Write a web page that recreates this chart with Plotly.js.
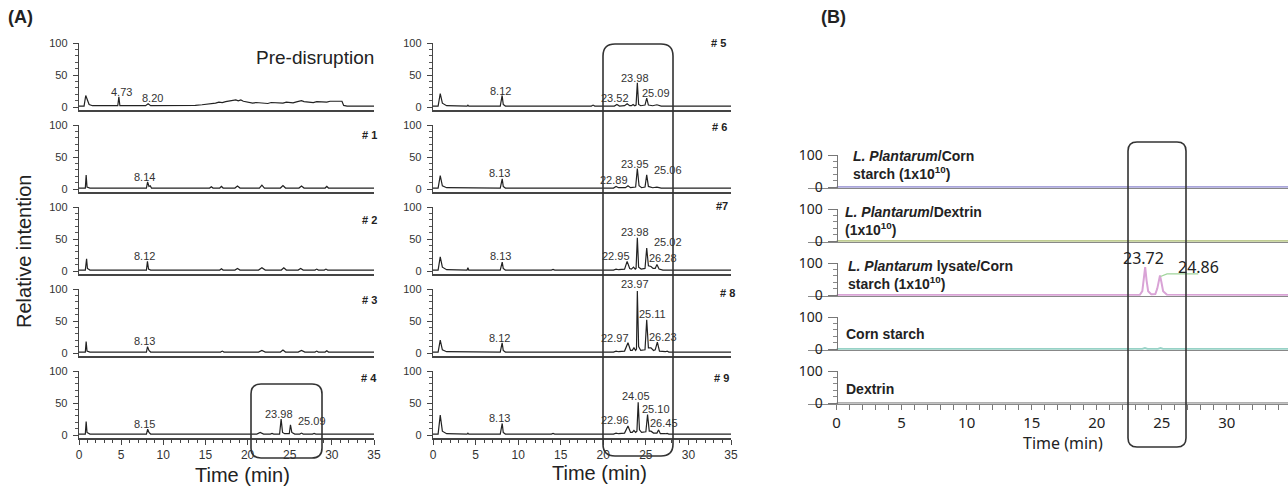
<!DOCTYPE html>
<html><head><meta charset="utf-8">
<script src="https://cdn.plot.ly/plotly-3.0.1.min.js"></script>
<style>html,body{margin:0;padding:0;background:#fff}#chart{width:1288px;height:488px}</style>
</head><body><div id="chart"></div>
<script>
// ---------------- DATA ----------------
// Panel A, left column (time in min, relative intensity)
const preT = [0, 0.6, 0.8, 0.95, 1.2, 1.6, 4.6, 4.73, 4.85, 7.9, 8.2, 8.5, 12.0, 13.8, 14.6, 15.0, 15.6, 16.2, 16.6, 17.0, 17.4, 17.8, 18.2, 18.6, 18.9, 19.2, 19.5, 19.8, 20.2, 20.6, 21.0, 21.5, 22.0, 22.4, 22.8, 23.3, 23.7, 24.2, 24.6, 25.0, 25.4, 25.8, 26.1, 26.4, 26.7, 27.0, 27.4, 27.8, 28.2, 28.6, 29.0, 29.4, 29.8, 30.2, 30.6, 30.9, 31.2, 31.4, 31.8, 35.0];
const preV = [1.5, 1.5, 18, 12, 4, 2, 2, 16, 2, 2, 5, 2, 2, 2.5, 3.5, 4, 5.5, 6, 7.5, 7, 8.5, 9, 10, 11, 9.5, 11, 9, 8, 6.5, 6, 7, 6.5, 5, 5.5, 7, 7, 6, 6, 7.5, 7.5, 6.5, 8, 9, 10, 8.5, 8, 7, 7, 8.5, 8.5, 7.5, 7.5, 9, 9, 8, 8, 9, 2.5, 1.5, 1.5];
const s1T = [0, 0.75, 0.85, 0.95, 1.3, 8.0, 8.14, 8.3, 8.45, 8.6, 15.5, 15.7, 15.9, 16.7, 16.9, 17.1, 18.5, 18.8, 19.1, 21.4, 21.7, 22.0, 23.9, 24.2, 24.5, 26.1, 26.4, 26.7, 29.2, 29.4, 29.6, 35];
const s1V = [1.5, 1.5, 22, 3, 1.5, 1.5, 11, 4, 5, 1.5, 1.5, 3.5, 1.5, 1.5, 4, 1.5, 1.5, 4.5, 1.5, 1.5, 6, 1.5, 1.5, 5.5, 1.5, 1.5, 4.5, 1.5, 1.5, 4, 1.5, 1.5];
const s2T = [0, 0.75, 0.9, 1.0, 1.3, 8.0, 8.12, 8.25, 8.5, 16.7, 16.9, 17.1, 18.5, 18.8, 19.1, 21.3, 21.7, 22.1, 24.0, 24.3, 24.6, 26.0, 26.3, 26.6, 28.0, 28.2, 28.4, 29.1, 29.3, 29.5, 35];
const s2V = [1.5, 1.5, 19, 4, 1.5, 1.5, 15, 3, 1.5, 1.5, 3.5, 1.5, 1.5, 4, 1.5, 1.5, 5, 1.5, 1.5, 5, 1.5, 1.5, 4, 1.5, 1.5, 3, 1.5, 1.5, 3, 1.5, 1.5];
const s3T = [0, 0.75, 0.85, 0.95, 1.3, 8.0, 8.13, 8.3, 8.5, 16.8, 17.0, 17.2, 21.3, 21.7, 22.1, 23.9, 24.2, 24.5, 26.0, 26.4, 26.8, 28.0, 28.2, 28.4, 29.2, 29.4, 29.6, 35];
const s3V = [1.5, 1.5, 18, 3, 1.5, 1.5, 10, 4, 1.5, 1.5, 3, 1.5, 1.5, 4, 1.5, 1.5, 4.5, 1.5, 1.5, 4, 1.5, 1.5, 3, 1.5, 1.5, 3.5, 1.5, 1.5];
const s4T = [0, 0.75, 0.85, 0.95, 1.3, 8.0, 8.15, 8.3, 8.5, 16.6, 16.8, 17.0, 18.9, 19.1, 19.3, 21.1, 21.5, 21.9, 22.7, 22.9, 23.1, 23.8, 23.98, 24.15, 24.4, 24.95, 25.09, 25.25, 25.6, 26.2, 26.4, 26.6, 27.7, 27.9, 28.1, 35];
const s4V = [1.5, 1.5, 21, 4, 1.5, 1.5, 9, 4, 1.5, 1.5, 2.5, 1.5, 1.5, 2.5, 1.5, 1.5, 4, 1.5, 1.5, 2.5, 1.5, 1.5, 25, 4, 2, 2, 16, 4, 1.5, 1.5, 3, 1.5, 1.5, 2.5, 1.5, 1.5];
// Panel A, right column
const s5T = [0, 0.6, 0.85, 1.1, 1.6, 4.0, 4.1, 4.2, 7.9, 8.12, 8.25, 8.5, 18.6, 18.8, 19.0, 21.3, 21.6, 21.9, 22.5, 22.8, 23.1, 23.3, 23.5, 23.7, 23.85, 24.0, 24.15, 24.4, 24.9, 25.1, 25.3, 25.8, 26.3, 26.8, 35];
const s5V = [1.5, 1.5, 21, 6, 2, 1.5, 3, 1.5, 1.5, 18, 4, 1.5, 1.5, 3, 1.5, 1.5, 4, 1.5, 2, 5, 2, 2, 4, 2, 3, 38, 4, 2, 3, 14, 3, 2, 3.5, 1.5, 1.5];
const s6T = [0, 0.6, 0.85, 1.1, 1.6, 4.0, 4.1, 4.2, 7.9, 8.13, 8.25, 8.5, 18.6, 18.8, 19.0, 21.2, 21.5, 21.8, 22.6, 22.9, 23.2, 23.8, 24.0, 24.2, 24.5, 24.9, 25.1, 25.3, 25.8, 26.3, 26.8, 35];
const s6V = [1.5, 1.5, 21, 5, 2, 1.5, 2.5, 1.5, 1.5, 16, 4, 1.5, 1.5, 2.5, 1.5, 1.5, 4, 2, 2, 5, 2, 3, 32, 5, 2, 3, 22, 4, 2, 3, 1.5, 1.5];
const s7T = [0, 0.6, 0.85, 1.1, 1.6, 4.0, 4.1, 4.2, 7.9, 8.13, 8.25, 8.5, 13.9, 14.1, 14.3, 17.3, 17.5, 17.7, 21.2, 21.5, 21.8, 22.5, 22.8, 23.1, 23.3, 23.55, 23.75, 23.85, 24.0, 24.15, 24.45, 24.9, 25.1, 25.3, 25.6, 25.85, 26.1, 26.3, 26.55, 27.0, 35];
const s7V = [1.5, 1.5, 22, 6, 2, 1.5, 5, 1.5, 1.5, 14, 4, 1.5, 1.5, 2.5, 1.5, 1.5, 2.5, 1.5, 1.5, 3, 2, 3, 15, 4, 3, 6, 3, 4, 52, 6, 3, 4, 36, 8, 7, 4, 4, 10, 3, 1.5, 1.5];
const s8T = [0, 0.6, 0.85, 1.1, 1.6, 4.0, 4.1, 4.2, 7.9, 8.12, 8.25, 8.5, 13.9, 14.1, 14.3, 21.2, 21.5, 21.8, 22.5, 22.9, 23.2, 23.4, 23.6, 23.8, 23.9, 24.0, 24.15, 24.4, 24.9, 25.1, 25.3, 25.6, 25.9, 26.1, 26.35, 26.6, 27.3, 27.5, 27.7, 35];
const s8V = [1.5, 1.5, 20, 5, 2, 1.5, 2.5, 1.5, 1.5, 16, 4, 1.5, 1.5, 2.5, 1.5, 1.5, 3, 2, 3, 16, 4, 4, 8, 4, 6, 97, 10, 4, 5, 52, 8, 8, 4, 5, 17, 3, 2, 3, 1.5, 1.5];
const s9T = [0, 0.6, 0.85, 1.1, 1.6, 4.0, 4.1, 4.2, 7.9, 8.13, 8.25, 8.5, 13.9, 14.1, 14.3, 18.8, 19.0, 19.2, 21.2, 21.5, 21.8, 22.5, 22.9, 23.2, 23.4, 23.6, 23.8, 23.95, 24.1, 24.25, 24.5, 25.0, 25.2, 25.4, 25.6, 25.9, 26.3, 26.5, 26.7, 27.3, 27.5, 27.7, 35];
const s9V = [1.5, 1.5, 31, 6, 2, 1.5, 3, 1.5, 1.5, 18, 4, 1.5, 1.5, 2.5, 1.5, 1.5, 2.5, 1.5, 1.5, 3, 2, 3, 14, 4, 4, 7, 4, 6, 51, 8, 4, 5, 32, 6, 6, 3, 3, 8, 2, 2, 2.5, 1.5, 1.5];
// Panel B
const rT1 = [0, 23.5, 23.7, 23.9, 34.7];
const rV1 = [0, 0, 1.5, 0, 0];
const rT2 = [0, 19.5, 20.5, 22, 23, 34.7];
const rV2 = [0, 0, 1, 1, 0, 0];
const rT3 = [0, 20.2, 20.4, 20.6, 23.3, 23.5, 23.6, 23.72, 23.83, 23.95, 24.2, 24.5, 24.65, 24.75, 24.86, 24.97, 25.1, 25.4, 34.7];
const rV3 = [0, 0, 2, 0, 0, 12, 45, 87, 45, 12, 2, 3, 20, 45, 61, 40, 12, 1, 0];
const rIntT = [24.9, 25.4, 27.8];
const rIntV = [58, 66, 66];
const rT4 = [0, 20, 23.5, 23.7, 23.9, 24.7, 24.9, 25.1, 34.7];
const rV4 = [0, 0, 0, 3, 0, 0, 3, 0, 0];
const rT5 = [0, 34.7];
const rV5 = [0, 0];

// Text content
const sampleNamesA = ['Pre-disruption', '# 1', '# 2', '# 3', '# 4'];
const sampleNamesA2 = ['# 5', '# 6', '#7', '# 8', '# 9'];
const peakLabPre = ['4.73', '8.20'];
const peakLab1 = ['8.14'];
const peakLab2 = ['8.12'];
const peakLab3 = ['8.13'];
const peakLab4 = ['8.15', '23.98', '25.09'];
const peakLab5 = ['8.12', '23.52', '23.98', '25.09'];
const peakLab6 = ['8.13', '22.89', '23.95', '25.06'];
const peakLab7 = ['8.13', '22.95', '23.98', '25.02', '26.28'];
const peakLab8 = ['8.12', '22.97', '23.97', '25.11', '26.23'];
const peakLab9 = ['8.13', '22.96', '24.05', '25.10', '26.45'];
const peakLabB = ['23.72', '24.86'];
const sampleNamesB = [
  '<i>L. Plantarum</i>/Corn<br>starch (1x10<sup>10</sup>)',
  '<i>L. Plantarum</i>/Dextrin<br>(1x10<sup>10</sup>)',
  '<i>L. Plantarum</i> lysate/Corn<br>starch (1x10<sup>10</sup>)',
  'Corn starch',
  'Dextrin'
];
const colorsB = ['#a9a5da', '#bfcc92', '#d9a3d6', '#97d2c6', '#b0b0b0'];

// ---------------- LAYOUT HELPERS ----------------
const W = 1288, H = 488;
const px = x => x / W, py = y => 1 - y / H;
const FONT = 'Liberation Sans, Arial, sans-serif';
const traces = [];
const layout = {
  width: W, height: H, margin: {l: 0, r: 0, t: 0, b: 0},
  paper_bgcolor: '#fff', plot_bgcolor: 'rgba(0,0,0,0)', showlegend: false,
  annotations: [], shapes: []
};
let n = 0;
function ids() { n += 1; return n === 1 ? '' : String(n); }

const setsA = [[preT, preV], [s1T, s1V], [s2T, s2V], [s3T, s3V], [s4T, s4V]];
const setsA2 = [[s5T, s5V], [s6T, s6V], [s7T, s7V], [s8T, s8V], [s9T, s9V]];

function addAPanel(sets, xl, xr) {
  sets.forEach((d, k) => {
    const id = ids();
    const p0 = 107 + 82 * k;
    const bottom = k === 4;
    traces.push({x: d[0], y: d[1], xaxis: 'x' + id, yaxis: 'y' + id, type: 'scatter', mode: 'lines',
      line: {color: '#222', width: 1.2}, hoverinfo: 'skip'});
    const xa = {domain: [px(xl), px(xr)], range: [0, 35], anchor: 'y' + id, showline: true, linecolor: '#444',
      linewidth: 1.4, showgrid: false, zeroline: false, fixedrange: true,
      ticks: bottom ? 'outside' : '', ticklen: 5, tickcolor: '#444', tickmode: 'linear', tick0: 0, dtick: 5,
      showticklabels: bottom, tickfont: {family: FONT, size: 12, color: '#333'}};
    if (bottom) xa.minor = {dtick: 1, tick0: 0, ticks: 'outside', ticklen: 3, tickcolor: '#444'};
    layout['xaxis' + id] = xa;
    layout['yaxis' + id] = {domain: [py(p0 + 3.2), py(p0 - 64)], range: [-5, 100], anchor: 'x' + id,
      showline: true, linecolor: '#444', linewidth: 1.3, showgrid: false, zeroline: false, fixedrange: true,
      ticks: 'outside', ticklen: 5, tickcolor: '#444', tickmode: 'linear', tick0: 0, dtick: 50,
      minor: {dtick: 10, tick0: 0, ticks: 'outside', ticklen: 3, tickcolor: '#555'},
      tickfont: {family: FONT, size: 11, color: '#333'}, ticklabelstandoff: 3};
  });
}
addAPanel(setsA, 79, 374);
addAPanel(setsA2, 433, 731);

// Panel B
const setsB = [[rT1, rV1], [rT2, rV2], [rT3, rV3], [rT4, rV4], [rT5, rV5]];
const p0B = [187, 241, 295, 349, 403];
const minorB = [];
for (let t = 0; t <= 34; t++) minorB.push(t);
setsB.forEach((d, k) => {
  const id = ids();
  const p0 = p0B[k];
  const bottom = k === 4;
  traces.push({x: d[0], y: d[1], xaxis: 'x' + id, yaxis: 'y' + id, type: 'scatter', mode: 'lines',
    line: {color: colorsB[k], width: 2}, hoverinfo: 'skip'});
  if (k === 2) {
    traces.push({x: rIntT, y: rIntV, xaxis: 'x' + id, yaxis: 'y' + id, type: 'scatter', mode: 'lines',
      line: {color: '#9fd49a', width: 1.2}, hoverinfo: 'skip'});
  }
  const xa = {domain: [px(808), 1], range: [-2.2, 34.7], anchor: 'y' + id, showline: true, linecolor: '#888',
    linewidth: 1.6, showgrid: false, zeroline: false, fixedrange: true,
    ticks: bottom ? 'outside' : '', ticklen: 5, tickcolor: '#777', tickmode: 'linear', tick0: 0, dtick: 5,
    showticklabels: bottom, tickfont: {family: 'Noto Sans, sans-serif', size: 15, color: '#222'}};
  if (bottom) xa.minor = {tickmode: 'array', tickvals: minorB, ticks: 'outside', ticklen: 5, tickcolor: '#777'};
  layout['xaxis' + id] = xa;
  layout['yaxis' + id] = {domain: [py(p0 + 0.64), py(p0 - 32)], range: [-2, 100], anchor: 'free',
    position: px(836.6), showline: true, linecolor: '#777', linewidth: 1.3, showgrid: false, zeroline: false,
    fixedrange: true, ticks: 'outside', ticklen: 9, tickcolor: '#777', tickmode: 'linear', tick0: 0, dtick: 100,
    minor: {dtick: 20, tick0: 0, ticks: 'outside', ticklen: 4, tickcolor: '#888'},
    tickfont: {family: 'Noto Sans, sans-serif', size: 14, color: '#222'}, ticklabelstandoff: 2};
});

// ---------------- ANNOTATIONS ----------------
function ann(text, x, y, size, opts) {
  layout.annotations.push(Object.assign({xref: 'paper', yref: 'paper', x: px(x), y: py(y), text: text,
    showarrow: false, xanchor: 'center', yanchor: 'middle',
    font: {family: FONT, size: size, color: '#222'}}, opts || {}));
}
function peaks(labels, pos) { labels.forEach((t, i) => ann(t, pos[i][0], pos[i][1], 11, {font: {family: FONT, size: 11, color: '#333'}})); }

ann('<b>(A)</b>', 6, 17, 18, {xanchor: 'left'});
ann('<b>(B)</b>', 819, 17, 18, {xanchor: 'left'});
ann(sampleNamesA[0], 315, 58, 19);
const namePosA = [[369, 135], [369, 220], [369, 300], [369, 378]];
for (let i = 1; i < 5; i++) ann('<b>' + sampleNamesA[i] + '</b>', namePosA[i - 1][0], namePosA[i - 1][1], 11);
const namePosA2 = [[718, 43], [720, 127], [722, 206], [727, 293], [721, 378]];
sampleNamesA2.forEach((s, i) => ann('<b>' + s + '</b>', namePosA2[i][0], namePosA2[i][1], 11));

peaks(peakLabPre, [[121, 92], [152, 98]]);
peaks(peakLab1, [[144, 177]]);
peaks(peakLab2, [[144, 256]]);
peaks(peakLab3, [[144, 341]]);
peaks(peakLab4, [[144, 424], [279, 414], [312, 421]]);
peaks(peakLab5, [[500, 91], [615, 98], [635, 78], [656, 93]]);
peaks(peakLab6, [[499, 173], [614, 180], [635, 164], [668, 170]]);
peaks(peakLab7, [[500, 256], [616, 256], [635, 232], [668, 242], [663, 258]]);
peaks(peakLab8, [[499, 338], [615, 338], [635, 284], [652, 314], [663, 337]]);
peaks(peakLab9, [[499, 418], [615, 420], [636, 396], [655.5, 409], [664, 423]]);

ann('Relative intention', 24, 252, 20, {textangle: -90});
ann('Time (min)', 242.5, 475, 20);
ann('Time (min)', 599.5, 473, 20);
ann('Time (min)', 1063, 443, 16, {font: {family: 'Noto Sans, sans-serif', size: 16, color: '#222'}});

const peakPosB = [[1143, 258], [1198, 267]];
peakLabB.forEach((t, i) => ann(t, peakPosB[i][0], peakPosB[i][1], 16, {font: {family: 'Noto Sans, sans-serif', size: 16, color: '#222'}}));

const namePosB = [[851, 165], [843, 221], [846, 274.5], [844, 334], [844, 389]];
sampleNamesB.forEach((s, i) => ann('<b>' + s + '</b>', namePosB[i][0], namePosB[i][1], 14,
  {xanchor: 'left', align: 'left', font: {family: FONT, size: 14, color: '#222'}}));

// ---------------- ROUNDED BOXES ----------------
function roundRect(x0, y0, x1, y1, r) {
  const P = (x, y) => px(x).toFixed(5) + ',' + py(y).toFixed(5);
  return 'M' + P(x0 + r, y0) + ' L' + P(x1 - r, y0) + ' Q' + P(x1, y0) + ' ' + P(x1, y0 + r) +
    ' L' + P(x1, y1 - r) + ' Q' + P(x1, y1) + ' ' + P(x1 - r, y1) +
    ' L' + P(x0 + r, y1) + ' Q' + P(x0, y1) + ' ' + P(x0, y1 - r) +
    ' L' + P(x0, y0 + r) + ' Q' + P(x0, y0) + ' ' + P(x0 + r, y0) + ' Z';
}
[[251, 384, 322, 458, 10], [603, 44, 673, 456, 12], [1128, 142, 1186, 447, 9]].forEach(b => {
  layout.shapes.push({type: 'path', xref: 'paper', yref: 'paper', path: roundRect(b[0], b[1], b[2], b[3], b[4]),
    line: {color: '#333', width: 1.6}, fillcolor: 'rgba(0,0,0,0)'});
});

Plotly.newPlot('chart', traces, layout, {staticPlot: true, displayModeBar: false});
</script></body></html>
